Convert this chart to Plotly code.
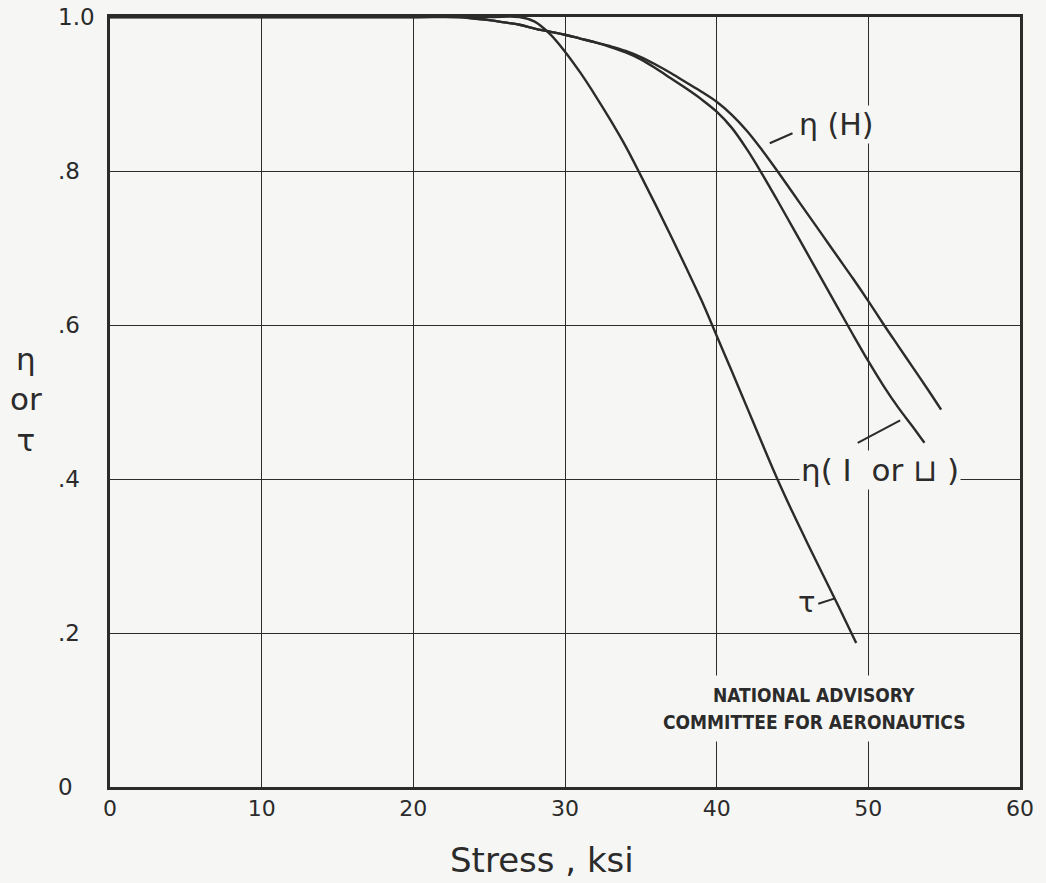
import plotly.graph_objects as go

# Data
stress_tau = [0, 10, 20, 25, 27, 28, 29, 30, 31, 32, 33, 34, 35, 36, 37, 38, 39, 40, 41, 42, 43, 44, 45, 46, 47, 48, 49.2]
tau = [1.0, 1.0, 1.0, 1.0, 1.0, 0.994, 0.978, 0.955, 0.928, 0.898, 0.866, 0.832, 0.794, 0.755, 0.715, 0.674, 0.632,
       0.586, 0.540, 0.493, 0.446, 0.400, 0.357, 0.316, 0.276, 0.236, 0.187]

stress_eta_h = [0, 10, 20, 23, 24, 25, 26, 27, 28, 29, 30, 31, 32, 33, 34, 35, 36, 37, 38, 39, 40, 41, 42, 43, 44,
                45, 46, 47, 48, 49, 50, 51, 52, 53, 54, 54.8]
eta_h = [1.0, 1.0, 1.0, 1.0, 0.998, 0.996, 0.993, 0.99, 0.985, 0.981, 0.977, 0.972, 0.967, 0.962, 0.956, 0.948,
         0.938, 0.927, 0.915, 0.903, 0.890, 0.873, 0.852, 0.827, 0.80, 0.772, 0.744, 0.716, 0.688, 0.66, 0.631,
         0.601, 0.572, 0.543, 0.514, 0.49]

stress_eta_i = [0, 10, 20, 23, 24, 25, 26, 27, 28, 29, 30, 31, 32, 33, 34, 35, 36, 37, 38, 39, 40, 41, 42, 43, 44,
                45, 46, 47, 48, 49, 50, 51, 52, 53, 53.7]
eta_i = [1.0, 1.0, 1.0, 1.0, 0.998, 0.996, 0.993, 0.99, 0.985, 0.981, 0.977, 0.972, 0.967, 0.961, 0.954, 0.945,
         0.933, 0.92, 0.907, 0.893, 0.877, 0.856, 0.828, 0.796, 0.762, 0.727, 0.692, 0.657, 0.622, 0.587, 0.553,
         0.521, 0.492, 0.466, 0.447]

x_ticks = [0, 10, 20, 30, 40, 50, 60]
x_ticktext = ["0", "10", "20", "30", "40", "50", "60"]
y_ticks = [0, 0.2, 0.4, 0.6, 0.8, 1.0]
y_ticktext = ["0", ".2", ".4", ".6", ".8", "1.0"]

BG = "#f6f6f4"
INK = "#2b2b2b"
FONT = "DejaVu Sans"

fig = go.Figure()
for xs, ys in [(stress_tau, tau), (stress_eta_h, eta_h), (stress_eta_i, eta_i)]:
    fig.add_trace(go.Scatter(x=xs, y=ys, mode="lines",
                             line=dict(color=INK, width=2.4, shape="spline", smoothing=1.0),
                             showlegend=False, hoverinfo="skip"))

# Leader lines
leaders = [
    (43.5, 0.836, 45.0, 0.849),   # eta(H)
    (49.3, 0.447, 52.1, 0.476),   # eta(I or U)
    (46.7, 0.238, 47.8, 0.245),   # tau
]
for x0, y0, x1, y1 in leaders:
    fig.add_shape(type="line", x0=x0, y0=y0, x1=x1, y1=y1,
                  line=dict(color=INK, width=2), layer="above")

def note(x, y, text, size=24, bg=True, family=FONT, pad=1):
    fig.add_annotation(x=x, y=y, text=text, showarrow=False,
                       font=dict(family=family, size=size, color=INK),
                       bgcolor=BG if bg else None, borderpad=pad)

note(47.9, 0.86, "η (H)", size=30)
note(50.8, 0.412, "η( I  or ⊔ )", size=31)
note(45.9, 0.24, "τ", size=29, bg=False)
note(46.45, 0.1195, "<b>NATIONAL ADVISORY</b>", size=19, family="DejaVu Sans Condensed", pad=8)
note(46.45, 0.0844, "<b>COMMITTEE FOR AERONAUTICS</b>", size=19, family="DejaVu Sans Condensed", pad=8)

# y tick labels (left aligned as hand lettered)
for v, t in zip(y_ticks, y_ticktext):
    fig.add_annotation(xref="paper", yref="y", x=-0.0597, y=v, text=t, showarrow=False,
                       xanchor="left", yanchor="middle",
                       font=dict(family=FONT, size=23, color=INK))

fig.update_layout(
    width=1046, height=883,
    margin=dict(l=110, r=14, t=17, b=96),
    paper_bgcolor=BG, plot_bgcolor=BG,
    font=dict(family=FONT, color=INK),
    xaxis=dict(range=[0, 60], tickvals=x_ticks, ticktext=x_ticktext,
               showgrid=True, gridcolor=INK, gridwidth=1.3,
               showline=True, linecolor=INK, linewidth=2.5, mirror=True,
               zeroline=False, ticks="", ticklabelstandoff=0,
               tickfont=dict(size=22, family=FONT, color=INK)),
    yaxis=dict(range=[0, 1.0], tickvals=y_ticks, showticklabels=False,
               showgrid=True, gridcolor=INK, gridwidth=1.3,
               showline=True, linecolor=INK, linewidth=2.5, mirror=True,
               zeroline=False, ticks=""),
)

# axis titles
fig.add_annotation(xref="x", yref="paper", x=28.5, y=-0.0948, text="Stress , ksi",
                   showarrow=False, xanchor="center", yanchor="middle",
                   font=dict(family=FONT, size=34, color=INK))
fig.add_annotation(xref="paper", yref="paper", x=-0.0922, y=0.503,
                   text="η<br>or<br>τ", showarrow=False, xanchor="center", yanchor="middle",
                   font=dict(family=FONT, size=31, color=INK))

fig.write_html("out.html", config={"displayModeBar": False},
               post_script="document.body.style.margin='0';")
